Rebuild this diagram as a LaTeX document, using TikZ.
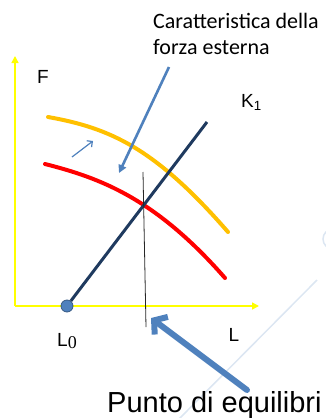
\documentclass[tikz,border=0pt]{standalone}
\usepackage{fontspec}
\setmainfont{Liberation Sans}
\newfontfamily\calibri{Carlito}
\newfontfamily\timesf{Liberation Serif}
\usetikzlibrary{arrows.meta}
\definecolor{axisyellow}{HTML}{FFFF00}
\definecolor{curveorange}{HTML}{FFC000}
\definecolor{curvered}{HTML}{FF0000}
\definecolor{navyline}{HTML}{1F3A5F}
\definecolor{accentblue}{HTML}{4F81BD}
\definecolor{faintblue}{HTML}{DCE6F2}
\begin{document}
\begin{tikzpicture}[x=1pt,y=-1pt,
  axisline/.style={draw=axisyellow, line width=1.6pt, -{Triangle[length=7pt,width=7pt]}},
  curveline/.style={line width=4pt, line cap=round},
  lbl/.style={inner sep=0pt, font=\fontsize{19}{22}\selectfont},
  ]
\useasboundingbox (0,0) rectangle (326,418);
% faint background traces
\coordinate (fa) at (317,280);
\coordinate (fb) at (178,420);
\draw[faintblue, line width=1.5pt] (fa) -- (fb);
\draw[faintblue, line width=1.5pt] (333,239) circle (10);
% axes
\coordinate (O) at (15,306);
\coordinate (ytip) at (15,56);
\coordinate (xtip) at (259,306);
\draw[axisline] (O) -- (ytip);
\draw[axisline] (O) -- (xtip);
% curves
\coordinate (oa) at (48,117);
\coordinate (ob) at (228,232);
\coordinate (ra) at (45,164);
\coordinate (rb) at (225,278);
\draw[curveorange, curveline] (oa) .. controls (110,128) and (155,148) .. (ob);
\draw[curvered, curveline] (ra) .. controls (100,178) and (155,198) .. (rb);
% K1 line
\node[circle, fill=accentblue, draw=accentblue!70!black, line width=0.8pt, minimum size=12pt, inner sep=0pt] (L0pt) at (67,306) {};
\coordinate (K1end) at (207,122);
\draw[navyline, line width=3pt] (L0pt) -- (K1end);
% vertical equilibrium line
\coordinate (vtop) at (143,172);
\coordinate (vbot) at (146,327);
\draw[black!85, line width=0.8pt] (vtop) -- (vbot);
% labels
\node[lbl] (Flbl) at (43,77) {F};
\node[lbl, anchor=base west] (K1lbl) at (241,107) {K\textsubscript{1}};
\node[lbl] (Llbl) at (234,335) {L};
\node[lbl, anchor=base west] (L0lbl) at (57,346) {L\raisebox{-0.25ex}{\timesf\fontsize{18}{20}\selectfont 0}};
% callout text and arrow
\node[anchor=base west, align=left, inner sep=0pt, font=\calibri\fontsize{22}{26}\selectfont] (callout) at (153,54) {Caratteristica della\\forza esterna};
\coordinate (c1) at (169,67);
\coordinate (c2) at (119,173);
\draw[accentblue, line width=2.6pt, -{Triangle[length=8pt,width=8pt]}] (c1) -- (c2);
% small shift arrow
\coordinate (s1) at (72,157);
\coordinate (s2) at (93,141);
\draw[accentblue, line width=1.2pt, -{Straight Barb[length=4pt,width=8pt]}] (s1) -- (s2);
% equilibrium arrow
\node[anchor=base west, inner sep=0pt, font=\fontsize{29}{34}\selectfont] (eq) at (107,412) {Punto di equilibri};
\coordinate (e1) at (247,390);
\coordinate (e2) at (151,318);
\draw[accentblue, line width=6pt, line cap=round, line join=round, -{Straight Barb[length=9pt,width=22pt]}] (e1) -- (e2);
\end{tikzpicture}
\end{document}
